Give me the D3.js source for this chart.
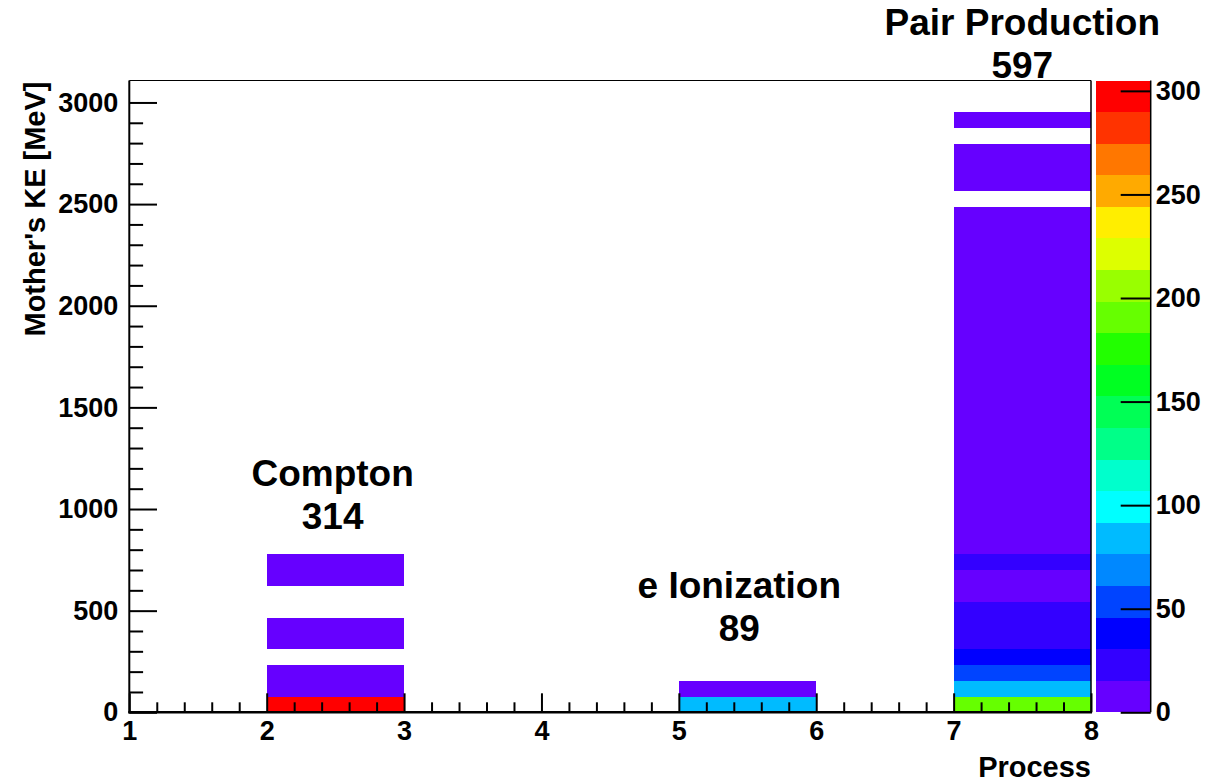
<html>

<head>
  <title>Mother's KE vs Process</title>
  <script src="https://d3js.org/d3.v7.min.js"></script>
  <style>
    body {
      margin: 0;
      background: #fff;
    }

    svg text {
      font-family: "Liberation Sans", Arial, Helvetica, sans-serif;
      font-weight: bold;
      fill: #000;
    }

    rect.cell,
    rect.band {
      shape-rendering: crispEdges;
    }

    .tick line {
      stroke: #000;
      stroke-width: 2px;
    }

    .tick text {
      font-size: 27px;
    }

    .axis-title {
      font-size: 29px;
    }

    .note {
      font-size: 37px;
      text-anchor: middle;
    }
  </style>
</head>

<body>
  <svg id="plot" width="1209" height="782"></svg>

  <script>
    // counts per y bin (bin 0 = lowest energy), one array per process column
    const comptonBins = [305, 2, 2, 0, 1, 1, 0, 0, 2, 1];
    const eIonBins = [82, 7];
    const pairBins = [190, 85, 52, 38, 20, 18, 16, 10, 8, 17,
      14, 13, 12, 11, 10, 9, 8, 8, 7, 7, 6, 5, 4, 4, 3, 3, 3, 3, 2, 2, 2, 2,
      0, 2, 1, 1, 0, 1];

    const processNames = ["Compton", "e Ionization", "Pair Production"];
    const processLow = [2, 5, 7];       // x bin lower edge
    const labelX = [2.48, 5.44, 7.5];    // annotation centre (process units)
    const labelY = [1113, 561, 3330];    // annotation baseline (MeV)

    const yBinWidth = 77.7;
    const yMax = 3108;
    const zMax = 305;

    const xTicks = [1, 2, 3, 4, 5, 6, 7, 8];
    const yTicks = [0, 500, 1000, 1500, 2000, 2500, 3000];
    const zTicks = [0, 50, 100, 150, 200, 250, 300];

    const paletteColors = ["#6600ff", "#3300ff", "#0000ff", "#0044ff", "#0088ff",
      "#00bbff", "#00ffff", "#00ffcc", "#00ff88", "#00ff55",
      "#00ff22", "#22ff00", "#66ff00", "#99ff00", "#ddff00",
      "#ffee00", "#ffaa00", "#ff7700", "#ff3300", "#ff0000"];

    const svg = d3.select("svg#plot");
    const frame = { left: 129.3, right: 1091, top: 80.5, bottom: 712.3 };
    const pal = { left: 1096, right: 1150.7 };

    const xScale = d3.scaleLinear().domain([1, 8]).range([frame.left, frame.right]);
    const yScale = d3.scaleLinear().domain([0, yMax]).range([frame.bottom, frame.top]);
    const zScale = d3.scaleLinear().domain([0, zMax]).range([frame.bottom, frame.top]);
    const colorScale = d3.scaleQuantize().domain([0, zMax]).range(paletteColors);

    // flatten the columns into cells
    const columns = [comptonBins, eIonBins, pairBins];
    let cells = [];
    columns.forEach((bins, i) => {
      bins.forEach((v, j) => {
        if (v > 0) cells.push({ x0: processLow[i], x1: processLow[i] + 1, y0: j * yBinWidth, y1: (j + 1) * yBinWidth, v: v });
      });
    });

    svg.append("g").selectAll("rect.cell").data(cells)
      .join("rect").attr("class", "cell")
      .attr("x", d => xScale(d.x0))
      .attr("y", d => yScale(d.y1))
      .attr("width", d => xScale(d.x1) - xScale(d.x0))
      .attr("height", d => yScale(d.y0) - yScale(d.y1))
      .attr("fill", d => colorScale(d.v));

    // frame: thin top/right, thick axes
    svg.append("line").attr("x1", frame.left).attr("x2", frame.right).attr("y1", frame.top).attr("y2", frame.top)
      .attr("stroke", "#000").attr("stroke-width", 1);
    svg.append("line").attr("x1", frame.right).attr("x2", frame.right).attr("y1", frame.top).attr("y2", frame.bottom)
      .attr("stroke", "#000").attr("stroke-width", 1.5);

    // y axis
    const yMinor = svg.append("g").attr("transform", `translate(${frame.left},0)`)
      .call(d3.axisLeft(yScale).tickValues(d3.range(100, 3100, 100).filter(v => v % 500 != 0)).tickSize(-13.8).tickFormat(""));
    yMinor.select(".domain").remove();
    const yAxis = svg.append("g").attr("transform", `translate(${frame.left},0)`)
      .call(d3.axisLeft(yScale).tickValues(yTicks).tickSize(-27.7).tickPadding(11).tickFormat(d3.format("d")));
    yAxis.select(".domain").remove();

    // x axis
    const xMinor = svg.append("g").attr("transform", `translate(0,${frame.bottom})`)
      .call(d3.axisBottom(xScale).tickValues(d3.range(1, 8, 0.2).filter(v => Math.abs(v - Math.round(v)) > 0.01)).tickSize(-10).tickFormat(""));
    xMinor.select(".domain").remove();
    const xAxis = svg.append("g").attr("transform", `translate(0,${frame.bottom})`)
      .call(d3.axisBottom(xScale).tickValues(xTicks).tickSize(-19).tickPadding(9).tickFormat(d3.format("d")));
    xAxis.select(".domain").remove();

    svg.append("line").attr("x1", frame.left).attr("x2", frame.left).attr("y1", frame.top).attr("y2", frame.bottom + 1)
      .attr("stroke", "#000").attr("stroke-width", 2);
    svg.append("line").attr("x1", frame.left - 1).attr("x2", frame.right + 1).attr("y1", frame.bottom).attr("y2", frame.bottom)
      .attr("stroke", "#000").attr("stroke-width", 2.5);

    // axis titles
    svg.append("text").attr("class", "axis-title")
      .attr("text-anchor", "end")
      .attr("transform", `translate(45,${frame.top + 1}) rotate(-90)`)
      .text("Mother's KE [MeV]");
    svg.append("text").attr("class", "axis-title")
      .attr("text-anchor", "end")
      .attr("x", frame.right).attr("y", 777)
      .text("Process");

    // colour palette
    const bandEdges = d3.range(0, paletteColors.length + 1).map(i => i * zMax / paletteColors.length);
    svg.append("g").selectAll("rect.band").data(paletteColors)
      .join("rect").attr("class", "band")
      .attr("x", pal.left)
      .attr("y", (d, i) => zScale(bandEdges[i + 1]))
      .attr("width", pal.right - pal.left)
      .attr("height", (d, i) => zScale(bandEdges[i]) - zScale(bandEdges[i + 1]))
      .attr("fill", d => d);

    const zAxis = svg.append("g").attr("transform", `translate(${pal.right},0)`)
      .call(d3.axisRight(zScale).tickValues(zTicks).tickSize(-30).tickPadding(5));
    zAxis.select(".domain").remove();
    svg.append("line").attr("x1", pal.right).attr("x2", pal.right).attr("y1", frame.top).attr("y2", frame.bottom)
      .attr("stroke", "#000").attr("stroke-width", 1.5);

    // annotations: process name and total entries
    columns.forEach((bins, i) => {
      svg.append("text").attr("class", "note")
        .attr("x", xScale(labelX[i])).attr("y", yScale(labelY[i]))
        .text(processNames[i]);
      svg.append("text").attr("class", "note")
        .attr("x", xScale(labelX[i])).attr("y", yScale(labelY[i]) + 43)
        .text(d3.sum(bins));
    });
  </script>
</body>

</html>
